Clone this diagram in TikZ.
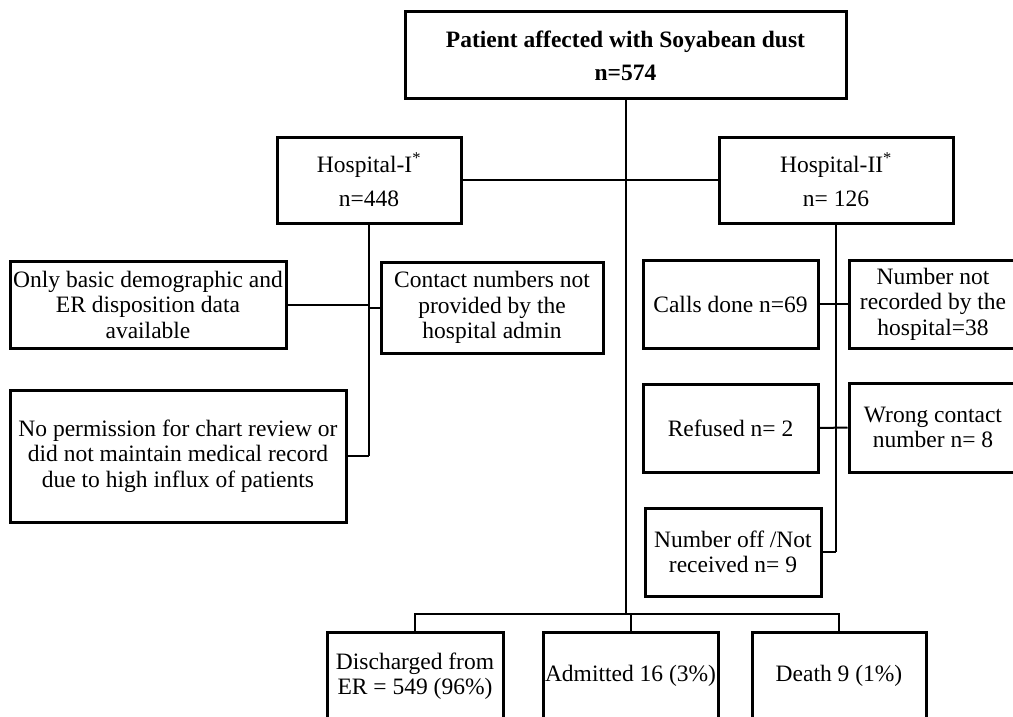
\documentclass[tikz,border=0pt]{standalone}
\usepackage{fontspec}
\setmainfont{Liberation Serif}
\usepackage{tikz}

\begin{document}
\begin{tikzpicture}[x=1pt, y=-1pt,
	box/.style={draw, line width=3pt, align=center, inner sep=0pt, font=\fontsize{23.5}{25.5}\selectfont},
	headbox/.style={box, font=\fontsize{23.5}{25.5}\selectfont\bfseries},
	link/.style={line width=2pt}]
	\clip (0,0) rectangle (1013,717);
	% top and hospitals
	\node[headbox, minimum width=441, minimum height=87] (top) at (625.5,55.5) {Patient affected with Soyabean dust\\[7.5pt] n=574};
	\node[box, minimum width=184, minimum height=86] (h1) at (369,180) {Hospital-I\textsuperscript{*}\\[8.5pt] n=448};
	\node[box, minimum width=234, minimum height=86] (h2) at (836,180) {Hospital-II\textsuperscript{*}\\[8.5pt] n= 126};
	% hospital I boxes
	\node[box, minimum width=276, minimum height=87] (basic) at (148,304.5) {Only basic demographic and\\ ER disposition data\\ available};
	\node[box, minimum width=222, minimum height=91] (contact) at (492,307.5) {Contact numbers not\\ provided by the\\ hospital admin};
	\node[box, minimum width=336, minimum height=132] (noperm) at (178,456) {No permission for chart review or\\ did not maintain medical record\\ due to high influx of patients};
	% hospital II boxes
	\node[box, minimum width=175, minimum height=88] (calls) at (730.5,304) {Calls done n=69};
	\node[box, minimum width=168, minimum height=88] (notrec) at (933,304) {Number not\\ recorded by the\\ hospital=38};
	\node[box, minimum width=175, minimum height=88] (refused) at (730.5,428) {Refused n= 2};
	\node[box, minimum width=168, minimum height=89] (wrong) at (933,427.5) {Wrong contact\\ number n= 8};
	\node[box, minimum width=176, minimum height=88] (numoff) at (733,552) {Number off /Not\\ received n= 9};
	% outcomes
	\node[box, minimum width=176, minimum height=88] (disch) at (415,676) {Discharged from\\ ER = 549 (96\%)};
	\node[box, minimum width=175, minimum height=88] (admit) at (630.5,676) {Admitted 16 (3\%)};
	\node[box, minimum width=174, minimum height=88] (death) at (839,676) {Death 9 (1\%)};
	\coordinate (bus) at (625.5,614);
	% lines
	\draw[link] (top.south) -- (bus);
	\draw[link] (h1.east) -- (h2.west);
	\draw[link] (h1.south) -- (h1.south |- noperm.east);
	\draw[link] (basic.east) -- (basic.east -| h1.south);
	\draw[link] (contact.west) -- (contact.west -| h1.south);
	\draw[link] (noperm.east) -- (noperm.east -| h1.south);
	\draw[link] (h2.south) -- (h2.south |- numoff.east);
	\draw[link] (calls.east) -- (notrec.west);
	\draw[link] (refused.east) -- (wrong.west);
	\draw[link] (numoff.east) -- (numoff.east -| h2.south);
	\draw[link] (disch.north) |- (bus) -| (death.north);
	\draw[link] (admit.north) -- (admit.north |- bus);
\end{tikzpicture}
\end{document}
